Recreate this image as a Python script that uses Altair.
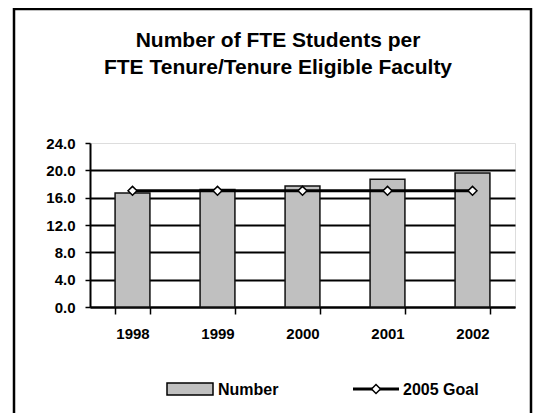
import altair as alt
import pandas as pd

# ---- data ----
years = ["1998", "1999", "2000", "2001", "2002"]
number = [16.7, 17.2, 17.7, 18.7, 19.6]
goal = [17.0, 17.0, 17.0, 17.0, 17.0]
y_ticks = [0, 4, 8, 12, 16, 20, 24]
series_names = ["Number", "2005 Goal"]
title_lines = ["Number of FTE Students per", "FTE Tenure/Tenure Eligible Faculty"]

df = pd.DataFrame({"Year": years, "Number": number, "Goal": goal})

FONT = "Liberation Sans"

x_scale = alt.Scale(paddingInner=0.59, paddingOuter=0.295)
y_scale = alt.Scale(domain=[0, 24], nice=False)

x_axis = alt.Axis(
    title=None, labelAngle=0, labelFont=FONT, labelFontSize=15,
    labelFontWeight="bold", labelColor="black", labelPadding=12,
    tickBand="extent", tickSize=7, tickColor="black", tickWidth=1.5,
    domainColor="black", domainWidth=2, grid=False,
)
y_axis = alt.Axis(
    title=None, values=y_ticks, format=".1f", labelFont=FONT,
    labelFontSize=15, labelFontWeight="bold", labelColor="black",
    labelPadding=10, labelOverlap=False, tickSize=5, tickColor="black",
    tickWidth=1.5, domainColor="black", domainWidth=2, grid=True,
    gridColor="black",
    gridWidth={"condition": {"test": "datum.value >= 24", "value": 0}, "value": 2},
)

base = alt.Chart(df)

bars = base.mark_bar(fill="#C0C0C0", stroke="#111111", strokeWidth=1.5).encode(
    x=alt.X("Year:N", scale=x_scale, axis=x_axis, sort=years),
    y=alt.Y("Number:Q", scale=y_scale, axis=y_axis),
)

goal_line = base.mark_line(color="black", strokeWidth=3).encode(
    x=alt.X("Year:N", sort=years, axis=x_axis),
    y=alt.Y("Goal:Q", scale=y_scale, axis=y_axis),
)

goal_pts = base.mark_point(
    shape="diamond", filled=True, fill="white", stroke="black",
    strokeWidth=1.5, size=80, opacity=1,
).encode(
    x=alt.X("Year:N", sort=years, axis=x_axis),
    y=alt.Y("Goal:Q", scale=y_scale, axis=y_axis),
)

# ---- outer frame (decoration) ----
frame = alt.Chart(alt.Data(values=[{"k": 1}])).mark_rect(
    fillOpacity=0, stroke="black", strokeWidth=2.5
).encode(
    x=alt.value(-76), x2=alt.value(441), y=alt.value(-134), y2=alt.value(280)
)

# ---- title as text ----
title_mark = alt.Chart(alt.Data(values=[{"t": "\n".join(title_lines)}])).mark_text(
    align="center", baseline="alphabetic", font=FONT, fontSize=21,
    fontWeight="bold", color="black", lineBreak="\n", lineHeight=27,
).encode(x=alt.value(188), y=alt.value(-96), text="t:N")

# ---- manual legend ----
leg_num = alt.Data(values=[{"name": series_names[0]}])
leg_goal = alt.Data(values=[{"name": series_names[1]}])

leg_rect = alt.Chart(leg_num).mark_rect(
    fill="#C0C0C0", stroke="black", strokeWidth=1.5
).encode(x=alt.value(77), x2=alt.value(123), y=alt.value(240), y2=alt.value(252))

leg_text1 = alt.Chart(leg_num).mark_text(
    align="left", baseline="alphabetic", font=FONT, fontSize=16,
    fontWeight="bold", color="black",
).encode(x=alt.value(128), y=alt.value(252), text="name:N")

leg_line = alt.Chart(leg_goal).mark_rule(color="black", strokeWidth=3).encode(
    x=alt.value(263), x2=alt.value(309), y=alt.value(246)
)

leg_pt = alt.Chart(leg_goal).mark_point(
    shape="diamond", filled=True, fill="white", stroke="black",
    strokeWidth=1.5, size=80, opacity=1,
).encode(x=alt.value(286), y=alt.value(246))

leg_text2 = alt.Chart(leg_goal).mark_text(
    align="left", baseline="alphabetic", font=FONT, fontSize=16,
    fontWeight="bold", color="black",
).encode(x=alt.value(313), y=alt.value(252), text="name:N")

chart = alt.layer(
    frame, title_mark, bars, goal_line, goal_pts,
    leg_rect, leg_text1, leg_line, leg_pt, leg_text2,
).properties(
    width=425,
    height=164,
    autosize="none",
    padding={"left": 82, "top": 135, "right": 18, "bottom": 106},
).configure_view(
    stroke="black", strokeWidth=1
).configure(background="white")

chart.save("out.html", embed_options={"renderer": "svg", "actions": False})
